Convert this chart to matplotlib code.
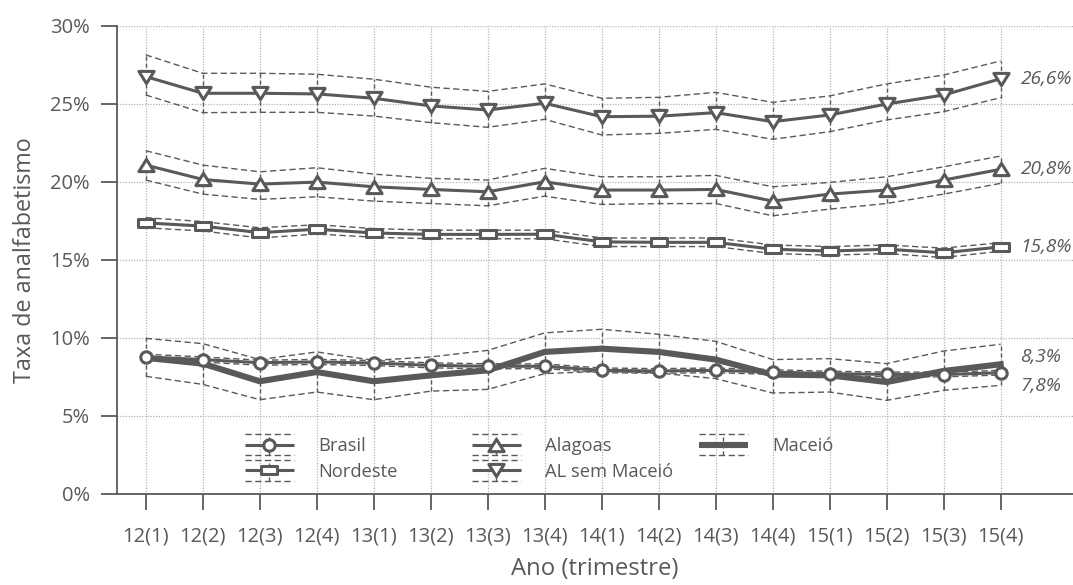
import matplotlib
matplotlib.use('Agg')
import matplotlib.pyplot as plt
from matplotlib.lines import Line2D
from matplotlib.path import Path

plt.rcParams['font.family'] = ['Open Sans', 'DejaVu Sans']

GREY = '#595959'
GRID = '#b5b5b5'

# trimestres
quarters = ['12(1)', '12(2)', '12(3)', '12(4)', '13(1)', '13(2)', '13(3)', '13(4)',
            '14(1)', '14(2)', '14(3)', '14(4)', '15(1)', '15(2)', '15(3)', '15(4)']

# taxas (%) e intervalos de confiança
brasil = [8.78, 8.61, 8.41, 8.46, 8.39, 8.24, 8.18, 8.18, 7.92, 7.88, 7.92, 7.81, 7.71, 7.66, 7.65, 7.77]
brasil_hi = [8.95, 8.78, 8.57, 8.62, 8.55, 8.40, 8.34, 8.33, 8.07, 8.03, 8.07, 7.96, 7.86, 7.81, 7.80, 7.92]
brasil_lo = [8.61, 8.45, 8.25, 8.30, 8.23, 8.08, 8.02, 8.03, 7.77, 7.73, 7.77, 7.66, 7.56, 7.51, 7.50, 7.62]

nordeste = [17.37, 17.16, 16.74, 16.96, 16.72, 16.63, 16.63, 16.64, 16.15, 16.12, 16.12, 15.68, 15.56, 15.68, 15.45, 15.83]
nordeste_hi = [17.70, 17.45, 17.05, 17.25, 17.00, 16.90, 16.90, 16.90, 16.40, 16.40, 16.40, 15.95, 15.85, 15.95, 15.75, 16.10]
nordeste_lo = [17.05, 16.85, 16.40, 16.65, 16.45, 16.35, 16.35, 16.35, 15.85, 15.85, 15.85, 15.40, 15.30, 15.40, 15.15, 15.55]

alagoas = [21.07, 20.15, 19.85, 19.98, 19.68, 19.51, 19.36, 20.00, 19.47, 19.47, 19.51, 18.76, 19.21, 19.47, 20.11, 20.80]
alagoas_hi = [21.99, 21.07, 20.64, 20.90, 20.49, 20.22, 20.11, 20.86, 20.32, 20.32, 20.41, 19.68, 19.96, 20.32, 20.96, 21.65]
alagoas_lo = [20.11, 19.21, 18.87, 19.04, 18.76, 18.61, 18.46, 19.08, 18.55, 18.60, 18.61, 17.82, 18.25, 18.61, 19.21, 19.90]

al_sem = [26.74, 25.67, 25.67, 25.63, 25.35, 24.86, 24.60, 25.03, 24.17, 24.20, 24.43, 23.85, 24.28, 24.98, 25.56, 26.60]
al_sem_hi = [28.13, 26.95, 26.95, 26.89, 26.57, 26.06, 25.79, 26.27, 25.35, 25.41, 25.73, 25.09, 25.50, 26.27, 26.84, 27.74]
al_sem_lo = [25.56, 24.43, 24.45, 24.45, 24.21, 23.79, 23.49, 24.00, 23.00, 23.10, 23.36, 22.72, 23.21, 23.96, 24.49, 25.39]

maceio = [8.72, 8.35, 7.22, 7.81, 7.22, 7.60, 7.92, 9.10, 9.31, 9.10, 8.61, 7.65, 7.60, 7.17, 7.88, 8.31]
maceio_hi = [9.97, 9.63, 8.61, 9.10, 8.56, 8.78, 9.20, 10.32, 10.55, 10.23, 9.78, 8.61, 8.67, 8.35, 9.16, 9.59]
maceio_lo = [7.54, 7.02, 6.04, 6.53, 6.04, 6.59, 6.70, 7.71, 7.86, 7.75, 7.39, 6.47, 6.53, 6.00, 6.64, 6.96]

# rótulos do último trimestre
end_labels = ['26,6%', '20,8%', '15,8%', '8,3%', '7,8%']
end_label_y = [26.6, 20.8, 15.8, 8.8, 6.9]

# marcadores (retângulo achatado, triângulos largos)
RECT = Path([(-1, -0.5), (1, -0.5), (1, 0.5), (-1, 0.5), (-1, -0.5)],
            [Path.MOVETO, Path.LINETO, Path.LINETO, Path.LINETO, Path.CLOSEPOLY])
TRI_UP = Path([(0, 0.8), (-1, -0.8), (1, -0.8), (0, 0.8)],
              [Path.MOVETO, Path.LINETO, Path.LINETO, Path.CLOSEPOLY])
TRI_DN = Path([(0, -0.8), (-1, 0.8), (1, 0.8), (0, -0.8)],
              [Path.MOVETO, Path.LINETO, Path.LINETO, Path.CLOSEPOLY])

DASH = (0, (4.5, 2.5))


class BandHandler:
    # linha + marcador, com tracejados acima/abaixo e barra vertical
    def legend_artist(self, legend, orig_handle, fontsize, handlebox):
        x0, y0 = -handlebox.xdescent, -handlebox.ydescent
        w, h = handlebox.width, handlebox.height
        cy = y0 + h / 2
        off = 7.4
        t = handlebox.get_transform()
        arts = []
        for dy in (off, -off):
            arts.append(Line2D([x0, x0 + w], [cy + dy, cy + dy], color=GREY, lw=1.0, ls=DASH, transform=t))
        arts.append(Line2D([x0 + w / 2, x0 + w / 2], [cy - off, cy + off], color=GREY, lw=1.0,
                           ls=(0, (3, 2)), transform=t))
        main = Line2D([x0, x0 + w], [cy, cy], color=GREY, lw=orig_handle.get_linewidth(),
                      solid_capstyle='butt', transform=t)
        arts.append(main)
        if orig_handle.get_marker() not in (None, 'None', ''):
            arts.append(Line2D([x0 + w / 2], [cy], marker=orig_handle.get_marker(),
                               markersize=orig_handle.get_markersize(), mfc='white', mec=GREY,
                               mew=orig_handle.get_markeredgewidth(), ls='none', transform=t))
        for a in arts:
            handlebox.add_artist(a)
        return main


def draw_series(ax, x, y, hi, lo, marker, ms, lw, z):
    ax.plot(x, hi, color=GREY, lw=1.0, ls=DASH, zorder=z)
    ax.plot(x, lo, color=GREY, lw=1.0, ls=DASH, zorder=z)
    ax.vlines(x, lo, hi, colors=GREY, lw=1.0, linestyles=[(0, (3, 2))], zorder=z)
    if marker is None:
        ax.plot(x, y, color=GREY, lw=lw, zorder=z + 0.5, solid_joinstyle='miter')
    else:
        ax.plot(x, y, color=GREY, lw=lw, marker=marker, ms=ms, mfc='white', mec=GREY,
                mew=2.2, zorder=z + 0.5)


fig = plt.figure(figsize=(10.73, 5.85), dpi=100)
ax = fig.add_axes([0.1093, 0.1556, 0.8907, 0.8005])

x = list(range(len(quarters)))

draw_series(ax, x, maceio, maceio_hi, maceio_lo, None, 0, 4.4, 3)
draw_series(ax, x, brasil, brasil_hi, brasil_lo, 'o', 8.2, 2.2, 4)
draw_series(ax, x, nordeste, nordeste_hi, nordeste_lo, RECT, 11, 2.2, 4)
draw_series(ax, x, alagoas, alagoas_hi, alagoas_lo, TRI_UP, 11, 2.2, 4)
draw_series(ax, x, al_sem, al_sem_hi, al_sem_lo, TRI_DN, 11, 2.2, 4)

for txt, yv in zip(end_labels, end_label_y):
    ax.text(15.35, yv, txt, ha='left', va='center', fontsize=13.8, style='italic', color=GREY)

# eixos
ax.set_xlim(-0.5, 16.27)
ax.set_ylim(0, 30)
ax.set_xticks(x)
ax.set_xticklabels(quarters)
ax.set_yticks([0, 5, 10, 15, 20, 25, 30])
ax.set_yticklabels(['0%', '5%', '10%', '15%', '20%', '25%', '30%'])
ax.tick_params(axis='x', length=11.5, width=1.3, color=GREY, labelcolor=GREY, labelsize=14.5, pad=12)
ax.tick_params(axis='y', length=11.3, width=1.3, color=GREY, labelcolor=GREY, labelsize=14.5, pad=8.4)
for side in ['top', 'right']:
    ax.spines[side].set_visible(False)
for side in ['left', 'bottom']:
    ax.spines[side].set_color(GREY)
    ax.spines[side].set_linewidth(1.3)
ax.grid(True, color=GRID, ls=(0, (1, 1.2)), lw=0.9, zorder=0)
ax.set_axisbelow(True)

ax.set_xlabel('Ano (trimestre)', fontsize=17.2, color=GREY)
ax.set_ylabel('Taxa de analfabetismo', fontsize=16.8, color=GREY)
ax.xaxis.set_label_coords(0.5, -0.135)
ax.yaxis.set_label_coords(-0.0838, 0.5)

# legenda em três colunas fixas
h_brasil = Line2D([], [], lw=2.2, marker='o', ms=8.2, mew=2.2)
h_nordeste = Line2D([], [], lw=2.2, marker=RECT, ms=11, mew=2.2)
h_alagoas = Line2D([], [], lw=2.2, marker=TRI_UP, ms=11, mew=2.2)
h_alsem = Line2D([], [], lw=2.2, marker=TRI_DN, ms=11, mew=2.2)
h_maceio = Line2D([], [], lw=4.4)

cols = [
    ([h_brasil, h_nordeste], ['Brasil', 'Nordeste'], (245 / 1073, 1 - 458.9 / 585)),
    ([h_alagoas, h_alsem], ['Alagoas', 'AL sem Maceió'], (471.7 / 1073, 1 - 458.9 / 585)),
    ([h_maceio], ['Maceió'], (699 / 1073, 1 - 446 / 585)),
]
legends = []
for handles, labels, anchor in cols:
    leg = fig.legend(handles, labels, loc='center left', bbox_to_anchor=anchor,
                     frameon=False, fontsize=13.2,
                     handlelength=2.67, handletextpad=1.33, labelspacing=0.42,
                     borderpad=0, borderaxespad=0, labelcolor=GREY,
                     handler_map={Line2D: BandHandler()})
    legends.append(leg)

fig.savefig('out.png', dpi=100)
